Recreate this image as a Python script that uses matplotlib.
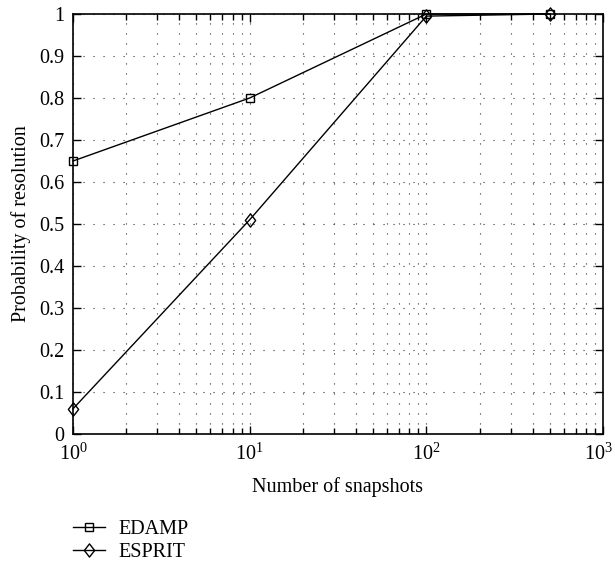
import matplotlib
matplotlib.use("Agg")
import matplotlib.pyplot as plt
import matplotlib.transforms as mtransforms
from matplotlib.path import Path
from matplotlib.ticker import LogLocator, FixedLocator, NullFormatter, LogFormatterSciNotation

snapshots = [1, 10, 100, 500]
edamp = [0.65, 0.80, 1.0, 1.0]
esprit = [0.06, 0.51, 0.995, 1.0]
xticks = [1, 10, 100, 1000]
yticks = [0, 0.1, 0.2, 0.3, 0.4, 0.5, 0.6, 0.7, 0.8, 0.9, 1]
ytick_labels = ["0", "0.1", "0.2", "0.3", "0.4", "0.5", "0.6", "0.7", "0.8", "0.9", "1"]

plt.rcParams['font.family'] = ['Liberation Serif', 'DejaVu Serif']
plt.rcParams['mathtext.fontset'] = 'custom'
plt.rcParams['mathtext.rm'] = 'Liberation Serif'
plt.rcParams['mathtext.it'] = 'Liberation Serif:italic'
plt.rcParams['mathtext.bf'] = 'Liberation Serif:bold'

FS = 14.5

diamond = Path([(0, 1), (0.78, 0), (0, -1), (-0.78, 0), (0, 1)],
               [Path.MOVETO, Path.LINETO, Path.LINETO, Path.LINETO, Path.CLOSEPOLY])

fig = plt.figure(figsize=(6.15, 5.65), dpi=100)
ax = fig.add_axes([73 / 615, 1 - 434 / 565, (603 - 73) / 615, (434 - 14) / 565])

l1, = ax.plot(snapshots, edamp, color='black', lw=1.0, marker='s', ms=5.5,
              mfc='none', mec='black', mew=1.0, label='EDAMP', clip_on=False, zorder=5)
l2, = ax.plot(snapshots, esprit, color='black', lw=1.0, marker=diamond, ms=9.5,
              mfc='none', mec='black', mew=1.0, label='ESPRIT', clip_on=False, zorder=5)

ax.set_xscale('log')
ax.set_xlim(1, 1000)
ax.set_ylim(0, 1)
ax.set_yticks(yticks)
ax.set_yticklabels(ytick_labels)
ax.xaxis.set_major_locator(FixedLocator(xticks))
ax.xaxis.set_major_formatter(LogFormatterSciNotation(base=10))
ax.xaxis.set_minor_locator(LogLocator(base=10, subs=range(2, 10), numticks=20))
ax.xaxis.set_minor_formatter(NullFormatter())

grid_style = dict(linestyle=(0, (1, 8)), color='#333333', lw=0.8)
ax.grid(True, which='major', axis='both', **grid_style)
ax.grid(True, which='minor', axis='x', **grid_style)

ax.tick_params(which='both', direction='in', top=True, right=True, labelsize=FS, width=1.0)
ax.tick_params(which='major', length=6)
ax.tick_params(which='minor', length=4.5)
ax.tick_params(axis='y', pad=6)
ax.tick_params(axis='x', pad=7)
for s in ax.spines.values():
    s.set_linewidth(1.2)

ax.set_xlabel('Number of snapshots', fontsize=FS, labelpad=9)
ax.set_ylabel('Probability of resolution', fontsize=FS, labelpad=6)

fig.canvas.draw()
ticks = ax.xaxis.get_major_ticks()
for t, loc in zip(ticks, xticks):
    if loc == xticks[-1]:
        lab = t.label1
        lab.set_transform(lab.get_transform() +
                          mtransforms.ScaledTranslation(-5 / 100, 0, fig.dpi_scale_trans))

fig.legend(handles=[l1, l2], loc='upper left', bbox_to_anchor=(73 / 615, 1 - 520 / 565),
           frameon=False, fontsize=FS, handlelength=1.6, handletextpad=0.65,
           labelspacing=0.2, borderpad=0, borderaxespad=0)

fig.savefig('out.png', dpi=100)
